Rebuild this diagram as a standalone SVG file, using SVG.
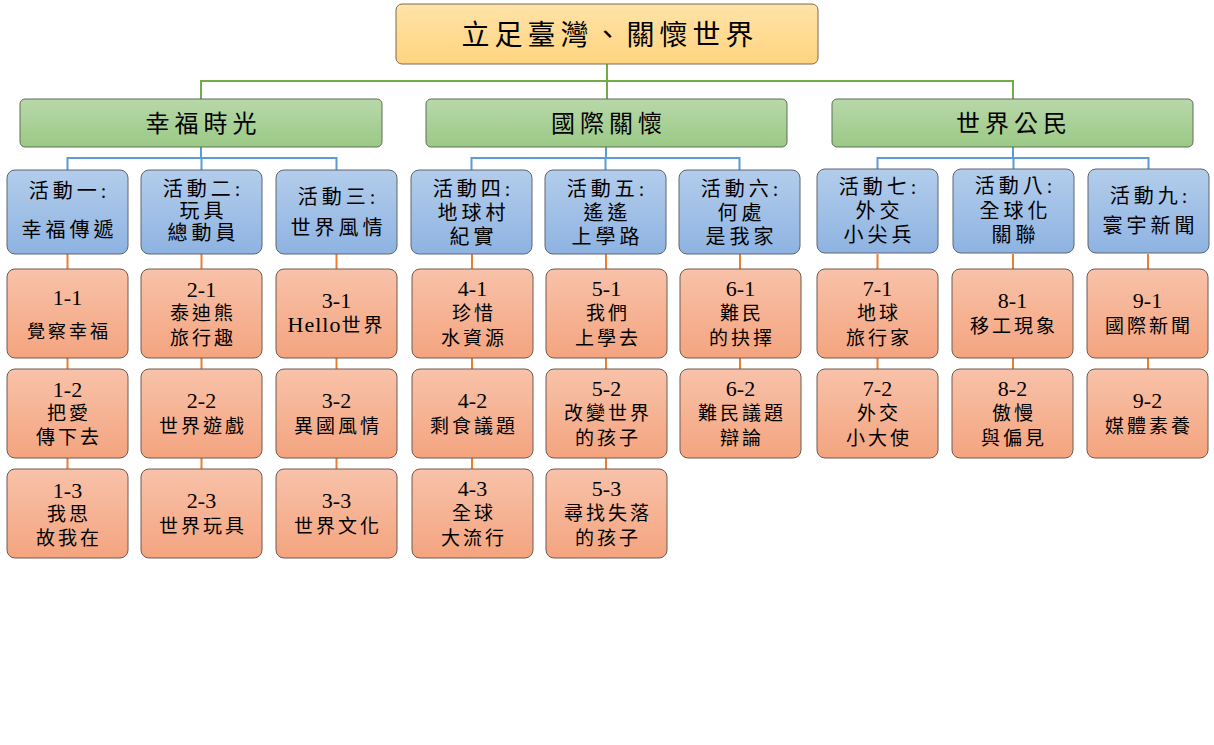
<svg xmlns="http://www.w3.org/2000/svg" width="1214" height="745" viewBox="0 0 1214 745">
<defs>
<linearGradient id="gRoot" x1="0" y1="0" x2="0" y2="1"><stop offset="0" stop-color="#FFE3A8"/><stop offset="1" stop-color="#FFD47F"/></linearGradient>
<linearGradient id="gL1" x1="0" y1="0" x2="0" y2="1"><stop offset="0" stop-color="#B8D8AA"/><stop offset="1" stop-color="#9BC985"/></linearGradient>
<linearGradient id="gL2" x1="0" y1="0" x2="0" y2="1"><stop offset="0" stop-color="#B3CDEB"/><stop offset="1" stop-color="#8EB3E2"/></linearGradient>
<linearGradient id="gL3" x1="0" y1="0" x2="0" y2="1"><stop offset="0" stop-color="#F8C2A9"/><stop offset="1" stop-color="#F4A47F"/></linearGradient>
</defs>
<style>
text{font-family:"Liberation Serif","Noto Sans CJK TC",serif;fill:#000;text-anchor:middle}
.root{fill:url(#gRoot);stroke:#7a6a50;stroke-width:1}
.l1{fill:url(#gL1);stroke:#5f6f58;stroke-width:1}
.l2{fill:url(#gL2);stroke:#5c6670;stroke-width:1}
.l3{fill:url(#gL3);stroke:#6e5a50;stroke-width:1}
.tr{font-size:28px;letter-spacing:5px}
.t1{font-size:24px;letter-spacing:5px}
.t2{font-size:20px;letter-spacing:4px}
.n{font-size:22px}
.c{font-size:19px;letter-spacing:3px}
.cg{fill:none;stroke:#70AD47;stroke-width:2}
.cb{fill:none;stroke:#5B9BD5;stroke-width:2}
.co{fill:none;stroke:#ED7D31;stroke-width:2}
</style>
<g id="connectors">
<path class="cg" d="M607 64V81M201 99V81H1013V99M607 81V99"/>
<path class="cb" d="M201 147V158M67.5 170V158H336.5V170M201.5 158V170"/>
<path class="cb" d="M606 147V158M471.5 170V158H739.5V170M605.5 158V170"/>
<path class="cb" d="M1013 147V158M877.5 170V158H1148.5V170M1013.5 158V170"/>
<path class="co" d="M67.5 254V469M201.5 254V469M336.5 254V469M472 254V469M606 254V469M740 254V369M877.5 254V369M1013 254V369M1148 254V369"/>
</g>
<g id="root"><rect class="root" x="396" y="4" width="422" height="60" rx="6"/><text class="tr" x="610" y="44.5">立足臺灣、關懷世界</text></g>
<g id="g1"><rect class="l1" x="20" y="99" width="362" height="48" rx="5"/><text class="t1" x="203.5" y="132">幸福時光</text></g>
<g id="g2"><rect class="l1" x="426" y="99" width="361" height="48" rx="5"/><text class="t1" x="609" y="132">國際關懷</text></g>
<g id="g3"><rect class="l1" x="832" y="99" width="361" height="48" rx="5"/><text class="t1" x="1014" y="132">世界公民</text></g>

<g id="a1"><rect class="l2" x="7" y="170" width="121" height="84" rx="8"/><text class="t2" x="69.5" y="197.5">活動一:</text><text class="t2" x="69.5" y="236.5">幸福傳遞</text></g>
<g id="a2"><rect class="l2" x="141" y="170" width="121" height="84" rx="8"/><text class="t2" x="203.5" y="195.5">活動二:</text><text class="t2" x="203.5" y="217.5">玩具</text><text class="t2" x="203.5" y="239.5">總動員</text></g>
<g id="a3"><rect class="l2" x="276" y="170" width="121" height="84" rx="8"/><text class="t2" x="338.5" y="203.5">活動三:</text><text class="t2" x="338.5" y="234.5">世界風情</text></g>
<g id="a4"><rect class="l2" x="411" y="170" width="121" height="84" rx="8"/><text class="t2" x="473.5" y="195.5">活動四:</text><text class="t2" x="473.5" y="219.5">地球村</text><text class="t2" x="473.5" y="244">紀實</text></g>
<g id="a5"><rect class="l2" x="545" y="170" width="121" height="84" rx="8"/><text class="t2" x="607.5" y="195.5">活動五:</text><text class="t2" x="607.5" y="219.5">遙遙</text><text class="t2" x="607.5" y="244">上學路</text></g>
<g id="a6"><rect class="l2" x="679" y="170" width="121" height="84" rx="8"/><text class="t2" x="741.5" y="195.5">活動六:</text><text class="t2" x="741.5" y="219.5">何處</text><text class="t2" x="741.5" y="244">是我家</text></g>
<g id="a7"><rect class="l2" x="817" y="169" width="121" height="84" rx="8"/><text class="t2" x="879.5" y="193.5">活動七:</text><text class="t2" x="879.5" y="218">外交</text><text class="t2" x="879.5" y="242">小尖兵</text></g>
<g id="a8"><rect class="l2" x="953" y="169" width="121" height="84" rx="8"/><text class="t2" x="1015.5" y="193">活動八:</text><text class="t2" x="1015.5" y="217.5">全球化</text><text class="t2" x="1015.5" y="242">關聯</text></g>
<g id="a9"><rect class="l2" x="1088" y="169" width="121" height="84" rx="8"/><text class="t2" x="1150.5" y="202.5">活動九:</text><text class="t2" x="1150.5" y="232.5">寰宇新聞</text></g>

<g id="n11"><rect class="l3" x="7" y="269" width="121" height="89" rx="8"/><text class="n" x="67.5" y="304.5">1-1</text><text class="c" x="69" y="338" style="font-size:18px">覺察幸福</text></g>
<g id="n12"><rect class="l3" x="7" y="369" width="121" height="89" rx="8"/><text class="n" x="67.5" y="396.5">1-2</text><text class="c" x="69" y="420">把愛</text><text class="c" x="69" y="444">傳下去</text></g>
<g id="n13"><rect class="l3" x="7" y="469" width="121" height="89" rx="8"/><text class="n" x="67.5" y="497.5">1-3</text><text class="c" x="69" y="521">我思</text><text class="c" x="69" y="545">故我在</text></g>
<g id="n21"><rect class="l3" x="141" y="269" width="121" height="89" rx="8"/><text class="n" x="201.5" y="296.5">2-1</text><text class="c" x="203" y="320">泰迪熊</text><text class="c" x="203" y="345">旅行趣</text></g>
<g id="n22"><rect class="l3" x="141" y="369" width="121" height="89" rx="8"/><text class="n" x="201.5" y="407.5">2-2</text><text class="c" x="203" y="433">世界遊戲</text></g>
<g id="n23"><rect class="l3" x="141" y="469" width="121" height="89" rx="8"/><text class="n" x="201.5" y="507.5">2-3</text><text class="c" x="203" y="533">世界玩具</text></g>
<g id="n31"><rect class="l3" x="276" y="269" width="121" height="89" rx="8"/><text class="n" x="336.5" y="307.5">3-1</text><text x="336.5" y="332"><tspan style="font-size:22px;letter-spacing:1px">Hello</tspan><tspan style="font-size:19px;letter-spacing:3px">世界</tspan></text></g>
<g id="n32"><rect class="l3" x="276" y="369" width="121" height="89" rx="8"/><text class="n" x="336.5" y="407.5">3-2</text><text class="c" x="338" y="433">異國風情</text></g>
<g id="n33"><rect class="l3" x="276" y="469" width="121" height="89" rx="8"/><text class="n" x="336.5" y="507.5">3-3</text><text class="c" x="338" y="533">世界文化</text></g>
<g id="n41"><rect class="l3" x="412" y="269" width="121" height="89" rx="8"/><text class="n" x="472.5" y="295.5">4-1</text><text class="c" x="474" y="320">珍惜</text><text class="c" x="474" y="345">水資源</text></g>
<g id="n42"><rect class="l3" x="412" y="369" width="121" height="89" rx="8"/><text class="n" x="472.5" y="407.5">4-2</text><text class="c" x="474" y="433">剩食議題</text></g>
<g id="n43"><rect class="l3" x="412" y="469" width="121" height="89" rx="8"/><text class="n" x="472.5" y="495.5">4-3</text><text class="c" x="474" y="520">全球</text><text class="c" x="474" y="545">大流行</text></g>
<g id="n51"><rect class="l3" x="546" y="269" width="121" height="89" rx="8"/><text class="n" x="606.5" y="295.5">5-1</text><text class="c" x="608" y="320">我們</text><text class="c" x="608" y="345">上學去</text></g>
<g id="n52"><rect class="l3" x="546" y="369" width="121" height="89" rx="8"/><text class="n" x="606.5" y="395.5">5-2</text><text class="c" x="608" y="420">改變世界</text><text class="c" x="608" y="445">的孩子</text></g>
<g id="n53"><rect class="l3" x="546" y="469" width="121" height="89" rx="8"/><text class="n" x="606.5" y="495.5">5-3</text><text class="c" x="608" y="520">尋找失落</text><text class="c" x="608" y="545">的孩子</text></g>
<g id="n61"><rect class="l3" x="680" y="269" width="121" height="89" rx="8"/><text class="n" x="740.5" y="295.5">6-1</text><text class="c" x="742" y="320">難民</text><text class="c" x="742" y="345">的抉擇</text></g>
<g id="n62"><rect class="l3" x="680" y="369" width="121" height="89" rx="8"/><text class="n" x="740.5" y="395.5">6-2</text><text class="c" x="742" y="420">難民議題</text><text class="c" x="742" y="445">辯論</text></g>
<g id="n71"><rect class="l3" x="817" y="269" width="121" height="89" rx="8"/><text class="n" x="877.5" y="295.5">7-1</text><text class="c" x="879" y="320">地球</text><text class="c" x="879" y="345">旅行家</text></g>
<g id="n72"><rect class="l3" x="817" y="369" width="121" height="89" rx="8"/><text class="n" x="877.5" y="395.5">7-2</text><text class="c" x="879" y="420">外交</text><text class="c" x="879" y="445">小大使</text></g>
<g id="n81"><rect class="l3" x="952" y="269" width="121" height="89" rx="8"/><text class="n" x="1012.5" y="307.5">8-1</text><text class="c" x="1014" y="333">移工現象</text></g>
<g id="n82"><rect class="l3" x="952" y="369" width="121" height="89" rx="8"/><text class="n" x="1012.5" y="395.5">8-2</text><text class="c" x="1014" y="420">傲慢</text><text class="c" x="1014" y="445">與偏見</text></g>
<g id="n91"><rect class="l3" x="1087" y="269" width="121" height="89" rx="8"/><text class="n" x="1147.5" y="307.5">9-1</text><text class="c" x="1149" y="333">國際新聞</text></g>
<g id="n92"><rect class="l3" x="1087" y="369" width="121" height="89" rx="8"/><text class="n" x="1147.5" y="407.5">9-2</text><text class="c" x="1149" y="433">媒體素養</text></g>
</svg>
